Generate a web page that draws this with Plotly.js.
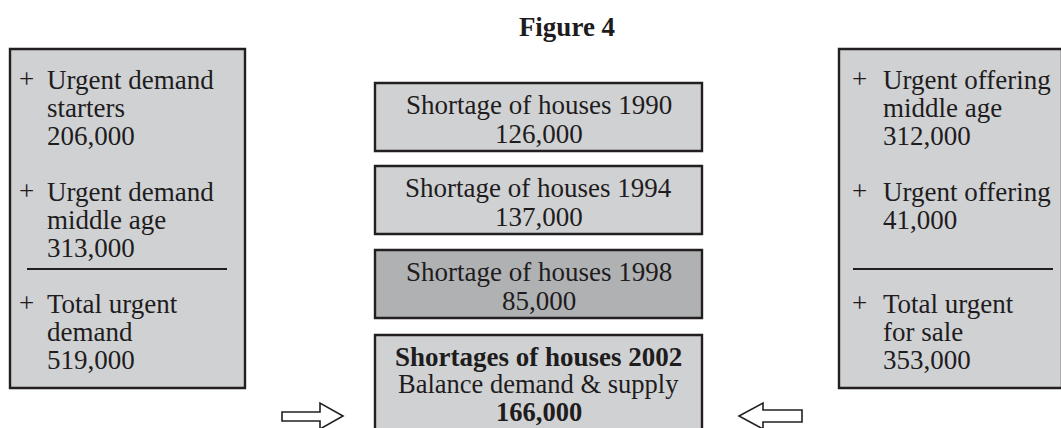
<!DOCTYPE html>
<html>
<head>
<meta charset="utf-8">
<script src="https://cdn.plot.ly/plotly-3.0.1.min.js"></script>
<style>html,body{margin:0;padding:0;background:#fff;}#chart{width:1061px;height:428px;}</style>
</head>
<body>
<div id="chart"></div>
<script>
// ---- data ----
const figureTitle = "Figure 4";
const leftLabels = [["Urgent demand", "starters"], ["Urgent demand", "middle age"], ["Total urgent", "demand"]];
const leftValues = [206000, 313000, 519000];
const rightLabels = [["Urgent offering", "middle age"], ["Urgent offering"], ["Total urgent", "for sale"]];
const rightValues = [312000, 41000, 353000];
const shortageYears = [1990, 1994, 1998, 2002];
const shortageValues = [126000, 137000, 85000, 166000];
const balanceLabel = "Balance demand & supply";

// ---- style / layout constants ----
const W = 1061, H = 428;
const FONT = "Liberation Serif, Times New Roman, serif";
const FS = 27;
const TXT = "#1e1c1d";
const EDGE = "#231f20";
const LIGHT = "#d0d1d3";
const DARK = "#b0b1b3";
const LH = 27.8;           // line step
const groupTops = [88, 200, 312]; // first baseline of each group
const fmt = v => v.toLocaleString("en-US");
const mid = b => b - FS * 0.30;  // baseline -> annotation centre

const shapes = [];
const annotations = [];

function addText(x, baseline, text, anchor, bold, size) {
  const fs = size || FS;
  annotations.push({
    x: x, y: baseline - fs * 0.30, xref: "x", yref: "y",
    text: bold ? "<b>" + text + "</b>" : text,
    showarrow: false, xanchor: anchor, yanchor: "middle",
    borderpad: 0, borderwidth: 0,
    font: {family: FONT, size: fs, color: TXT}
  });
}

function sidePanel(x0, x1, plusX, textX, labels, values, ruleX0, ruleX1) {
  shapes.push({type: "rect", xref: "x", yref: "y", x0: x0, x1: x1, y0: 49, y1: 388,
    fillcolor: LIGHT, line: {color: EDGE, width: 2.4}, layer: "below"});
  labels.forEach((lines, i) => {
    const b0 = groupTops[i];
    addText(plusX, b0 - 1, "+", "left");
    lines.forEach((ln, j) => addText(textX, b0 + j * LH, ln, "left"));
    addText(textX, b0 + lines.length * LH, fmt(values[i]), "left");
  });
  shapes.push({type: "line", xref: "x", yref: "y", x0: ruleX0, x1: ruleX1, y0: 269, y1: 269,
    line: {color: EDGE, width: 2}});
}

sidePanel(10, 245, 19, 47, leftLabels, leftValues, 27, 227);
sidePanel(839, 1062, 852, 883, rightLabels, rightValues, 853, 1053);

// centre column
const cx0 = 375, cx1 = 702, cxm = (cx0 + cx1) / 2;
const boxTops = [83, 166, 250, 335];
shortageYears.forEach((yr, i) => {
  const t = boxTops[i];
  const last = i === shortageYears.length - 1;
  shapes.push({type: "rect", xref: "x", yref: "y", x0: cx0, x1: cx1, y0: t, y1: last ? H + 10 : t + 68,
    fillcolor: i === 2 ? DARK : LIGHT, line: {color: EDGE, width: 2.4}, layer: "below"});
  if (!last) {
    addText(cxm, t + 30, "Shortage of houses " + yr, "center");
    addText(cxm, t + 59, fmt(shortageValues[i]), "center");
  } else {
    addText(cxm, t + 30, "Shortages of houses " + yr, "center", true);
    addText(cxm, t + 56.5, balanceLabel, "center", false, 26.5);
    addText(cxm, t + 85, fmt(shortageValues[i]), "center", true, 26.5);
  }
});

// hollow arrows
shapes.push({type: "path", xref: "x", yref: "y",
  path: "M282,412 L320,412 L320,403 L343,416 L320,429 L320,421 L282,421 Z",
  fillcolor: "#ffffff", line: {color: EDGE, width: 1.6}});
shapes.push({type: "path", xref: "x", yref: "y",
  path: "M802,410 L763,410 L763,403 L739,416 L763,429 L763,422 L802,422 Z",
  fillcolor: "#ffffff", line: {color: EDGE, width: 1.6}});

const layout = {
  width: W, height: H,
  margin: {l: 0, r: 0, t: 0, b: 0},
  paper_bgcolor: "#ffffff", plot_bgcolor: "#ffffff",
  showlegend: false,
  title: {text: "<b>" + figureTitle + "</b>", x: 567 / W, xanchor: "center", xref: "paper",
    y: 1 - mid(35) / H, yref: "container", yanchor: "middle",
    font: {family: FONT, size: FS, color: TXT}},
  xaxis: {range: [0, W], visible: false, fixedrange: true},
  yaxis: {range: [H, 0], visible: false, fixedrange: true},
  shapes: shapes,
  annotations: annotations
};

Plotly.newPlot("chart", [{x: [], y: [], type: "scatter", mode: "markers", hoverinfo: "skip"}], layout,
  {staticPlot: true, displayModeBar: false});
</script>
</body>
</html>
